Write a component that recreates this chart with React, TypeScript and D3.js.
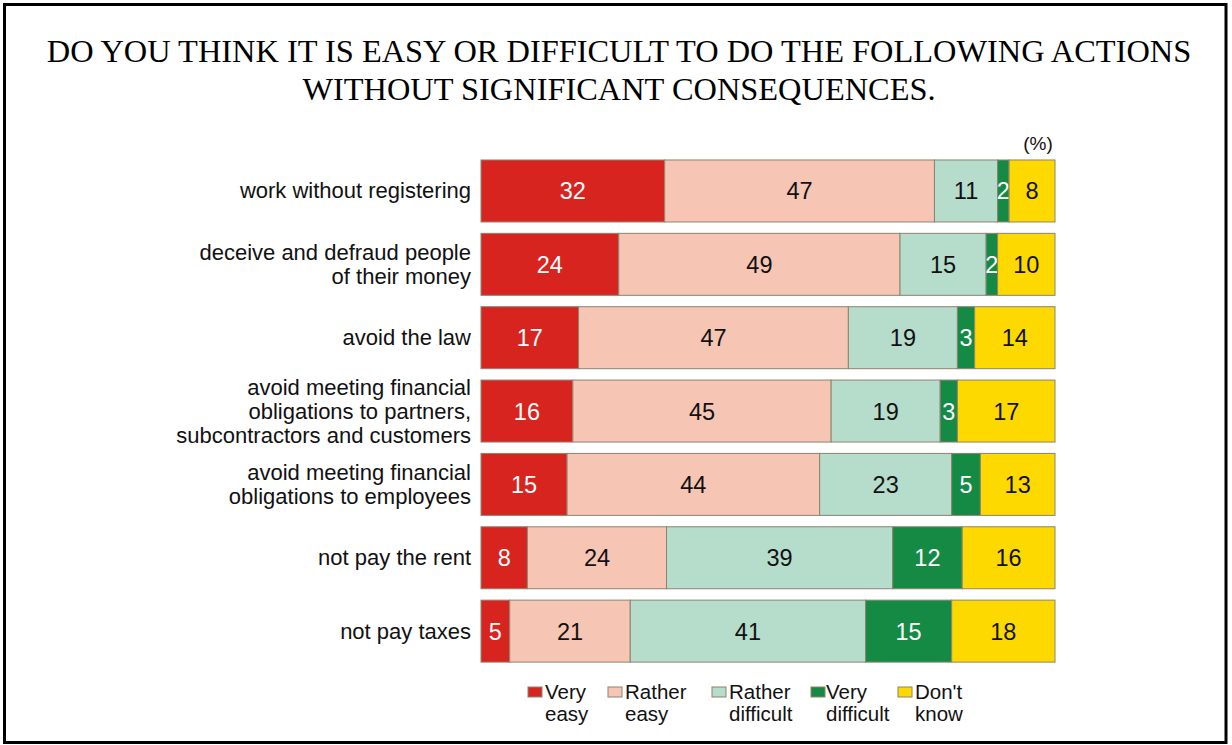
import React, { useEffect, useRef } from "react";
import * as d3 from "d3";

const categories = [
  "work without registering",
  "deceive and defraud people\nof their money",
  "avoid the law",
  "avoid meeting financial\nobligations to partners,\nsubcontractors and customers",
  "avoid meeting financial\nobligations to employees",
  "not pay the rent",
  "not pay taxes",
];

const seriesKeys = ["veryEasy", "ratherEasy", "ratherDifficult", "veryDifficult", "dontKnow"];
const seriesLabels = [
  ["Very", "easy"],
  ["Rather", "easy"],
  ["Rather", "difficult"],
  ["Very", "difficult"],
  ["Don't", "know"],
];
const seriesColors = ["#d8241f", "#f6c5b4", "#b6dccb", "#158a44", "#fdd900"];
const labelColors = ["#ffffff", "#111111", "#111111", "#ffffff", "#111111"];

const veryEasy = [32, 24, 17, 16, 15, 8, 5];
const ratherEasy = [47, 49, 47, 45, 44, 24, 21];
const ratherDifficult = [11, 15, 19, 19, 23, 39, 41];
const veryDifficult = [2, 2, 3, 3, 5, 12, 15];
const dontKnow = [8, 10, 14, 17, 13, 16, 18];

const W = 1232;
const H = 745;

export default function App() {
  const ref = useRef<SVGSVGElement | null>(null);

  useEffect(() => {
    const svg = d3.select(ref.current);
    svg.selectAll("*").remove();

    const sans = "Liberation Sans, Arial, sans-serif";

    // frame
    svg
      .append("rect")
      .attr("x", 4.5)
      .attr("y", 4.5)
      .attr("width", 1221.5)
      .attr("height", 738)
      .attr("fill", "#fff")
      .attr("stroke", "#000")
      .attr("stroke-width", 3);

    // title
    const title = svg
      .append("text")
      .attr("text-anchor", "middle")
      .style("font-family", "Liberation Serif, Times New Roman, serif")
      .style("font-size", "32.4px")
      .attr("fill", "#000");
    ["DO YOU THINK IT IS EASY OR DIFFICULT TO DO THE FOLLOWING ACTIONS", "WITHOUT SIGNIFICANT CONSEQUENCES."].forEach(
      (t, i) => {
        title
          .append("tspan")
          .attr("x", 619)
          .attr("y", 62 + i * 37.5)
          .text(t);
      },
    );

    const table = categories.map((c, i) => ({
      category: c,
      veryEasy: veryEasy[i],
      ratherEasy: ratherEasy[i],
      ratherDifficult: ratherDifficult[i],
      veryDifficult: veryDifficult[i],
      dontKnow: dontKnow[i],
    }));

    const stack = d3
      .stack<any>()
      .keys(seriesKeys)
      .offset(d3.stackOffsetExpand);
    const series = stack(table);

    const x = d3.scaleLinear().domain([0, 1]).range([481, 1055]);
    const y = d3
      .scaleBand()
      .domain(categories)
      .range([154.3, 667.8])
      .paddingInner(0.155)
      .paddingOuter(0.0775);

    const groups = svg
      .selectAll(".series")
      .data(series)
      .enter()
      .append("g")
      .attr("class", "series");

    groups
      .selectAll("rect")
      .data((s, si) => s.map((d) => ({ d, si })))
      .enter()
      .append("rect")
      .attr("x", ({ d }) => x(d[0]))
      .attr("y", ({ d }) => y(d.data.category) ?? 0)
      .attr("width", ({ d }) => x(d[1]) - x(d[0]))
      .attr("height", y.bandwidth())
      .attr("fill", ({ si }) => seriesColors[si])
      .attr("stroke", "#8c8470")
      .attr("stroke-width", 1);

    groups
      .selectAll("text")
      .data((s, si) => s.map((d) => ({ d, si, key: s.key })))
      .enter()
      .append("text")
      .attr("x", ({ d }) => (x(d[0]) + x(d[1])) / 2)
      .attr("y", ({ d }) => (y(d.data.category) ?? 0) + y.bandwidth() / 2 + 8.5)
      .attr("text-anchor", "middle")
      .style("font-family", sans)
      .style("font-size", "23.5px")
      .attr("fill", ({ si }) => labelColors[si])
      .text(({ d, key }) => d.data[key]);

    // category labels
    categories.forEach((c) => {
      const lines = c.split("\n");
      const lh = 24;
      const cy = (y(c) ?? 0) + y.bandwidth() / 2;
      const t = svg
        .append("text")
        .attr("text-anchor", "end")
        .style("font-family", sans)
        .style("font-size", "22px")
        .attr("fill", "#111");
      lines.forEach((l, i) => {
        t.append("tspan")
          .attr("x", 471)
          .attr("y", cy + 7.5 + (i - (lines.length - 1) / 2) * lh)
          .text(l);
      });
    });

    // unit
    svg
      .append("text")
      .attr("x", 1038)
      .attr("y", 150)
      .attr("text-anchor", "middle")
      .style("font-family", sans)
      .style("font-size", "19px")
      .attr("fill", "#111")
      .text("(%)");

    // legend
    const legendSwatchX = [528, 608, 712, 811, 898];
    const legendTextX = [545, 625, 729, 826, 915];
    seriesLabels.forEach((lab, i) => {
      svg
        .append("rect")
        .attr("x", legendSwatchX[i])
        .attr("y", 687)
        .attr("width", 14)
        .attr("height", 10)
        .attr("fill", seriesColors[i])
        .attr("stroke", "#8c8470")
        .attr("stroke-width", 1);
      const t = svg
        .append("text")
        .style("font-family", sans)
        .style("font-size", "20.5px")
        .attr("fill", "#111");
      lab.forEach((l, j) => {
        t.append("tspan")
          .attr("x", legendTextX[i])
          .attr("y", 699 + j * 22)
          .text(l);
      });
    });
  }, []);

  return (
    <svg
      ref={ref}
      width={W}
      height={H}
      style={{ position: "absolute", left: 0, top: 0 }}
    ></svg>
  );
}
